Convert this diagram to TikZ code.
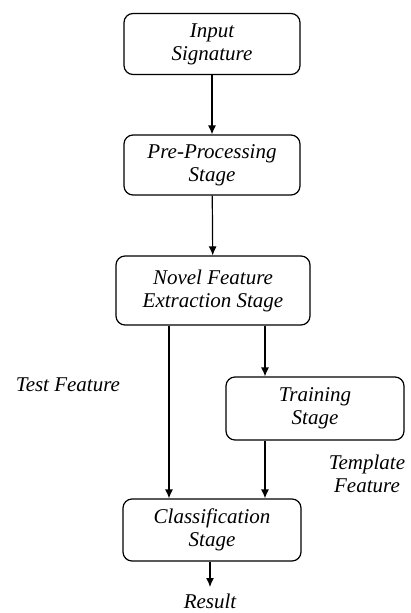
\documentclass[tikz,border=0pt]{standalone}
\usepackage{fontspec}
\setmainfont{Liberation Serif}
\usetikzlibrary{arrows.meta,positioning,calc}

\tikzset{
	stage/.style={draw, line width=1.2pt, rounded corners=9pt, align=center, inner sep=2pt,
		font=\itshape\fontsize{21}{23}\selectfont},
	flowarrow/.style={line width=1.2pt, -{Latex[length=9pt,width=8pt]}},
	note/.style={align=center, inner sep=1pt, font=\itshape\fontsize{21}{23}\selectfont}
}

\begin{document}
\begin{tikzpicture}[x=1pt,y=-1pt]
	\useasboundingbox (0,0) rectangle (411,613);
	\node[stage, minimum width=176pt, minimum height=61pt] (input) at (212,44) {Input\\Signature};
	\node[stage, minimum width=176pt, minimum height=60pt] (pre) at (212,165) {Pre-Processing\\Stage};
	\node[stage, minimum width=194pt, minimum height=69pt] (novel) at (213,290.5) {Novel Feature\\Extraction Stage};
	\node[stage, minimum width=178pt, minimum height=63pt] (train) at (315,408.5) {Training\\Stage};
	\node[stage, minimum width=178pt, minimum height=62pt] (classif) at (212,530) {Classification\\Stage};
	\node[note, anchor=north, inner ysep=7pt] (result) at (210,587) {Result};
	\node[note] (test) at (68,385) {Test Feature};
	\node[note] (template) at (367,474) {Template\\Feature};
	% arrows
	\draw[flowarrow] (input) -- (pre);
	\draw[flowarrow] (pre) -- (novel);
	\draw[flowarrow] ([xshift=-44pt]novel.south) -- ([xshift=-44pt]novel.south |- classif.north);
	\draw[flowarrow] ([xshift=52pt]novel.south) -- ([xshift=52pt]novel.south |- train.north);
	\draw[flowarrow] ([xshift=-50pt]train.south) -- ([xshift=-50pt]train.south |- classif.north);
	\draw[flowarrow] ([xshift=-2pt]classif.south) -- (result.north);
\end{tikzpicture}
\end{document}
